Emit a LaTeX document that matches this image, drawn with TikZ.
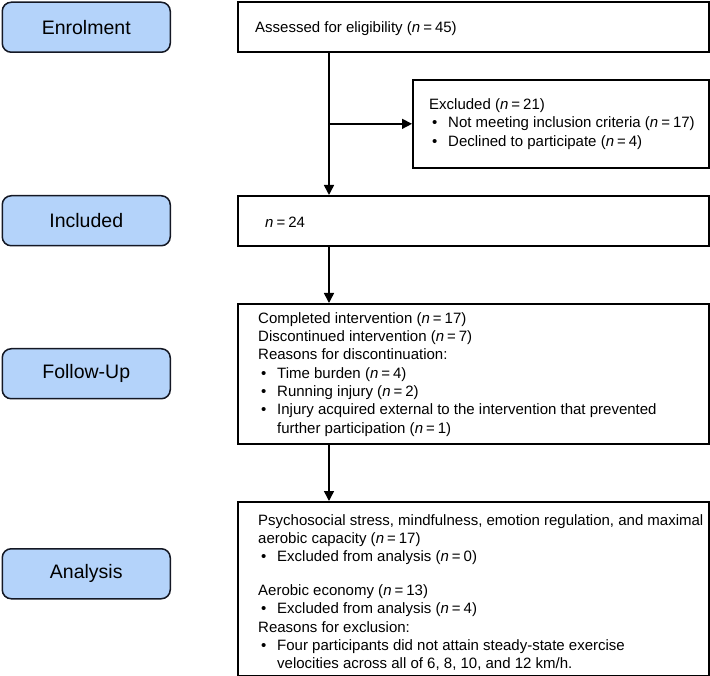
\documentclass[tikz,border=0pt]{standalone}
\usepackage{fontspec}
\setmainfont{Liberation Sans}
\usetikzlibrary{arrows.meta,calc}
\definecolor{stagefill}{RGB}{180,211,250}
\definecolor{stageline}{RGB}{20,24,36}
\newcommand\nval[1]{\textit{n}\hspace{0.2em}=\hspace{0.2em}#1}
\newcommand\bul{\makebox[19pt][l]{\hspace{3pt}\textbullet}}
\begin{document}
\begin{tikzpicture}[x=1pt,y=-1pt,
  stage/.style={draw=stageline, fill=stagefill, line width=1.5pt, rounded corners=9pt,
    minimum width=168pt, minimum height=50pt, anchor=north west, inner sep=0pt,
    font=\fontsize{19.5}{23}\selectfont},
  box/.style={draw=black, line width=1.7pt, anchor=north west, inner sep=0pt},
  txt/.style={anchor=west, align=left, inner sep=0pt, font=\fontsize{15}{18.3}\selectfont},
  arr/.style={line width=1.5pt, -{Triangle[length=10pt,width=10pt]}}]
\useasboundingbox (0,0) rectangle (710,676);
\coordinate (sp) at (329,0);

% stage labels
\node[stage] (enrol) at (1.5,1.5) {Enrolment};
\node[stage] (inclL) at (1.5,195) {Included};
\node[stage] (follL) at (1.5,348) {Follow-Up};
\node[stage] (anaL) at (1.5,548) {Analysis};

% boxes
\node[box, minimum width=471pt, minimum height=50pt] (assess) at (237,1.5) {};
\node[txt] (assesst) at ($(assess.west)+(18,1)$) {Assessed for eligibility (\nval{45})};

\node[box, minimum width=296pt, minimum height=88pt] (excl) at (412,79) {};
\node[txt] (exclt) at ($(excl.west)+(17,0)$) {Excluded (\nval{21})\\
\bul Not meeting inclusion criteria (\nval{17})\\
\bul Declined to participate (\nval{4})};

\node[box, minimum width=471pt, minimum height=50pt] (incl) at (237,195) {};
\node[txt] (inclt) at ($(incl.west)+(28,1)$) {\nval{24}};

\node[box, minimum width=471pt, minimum height=140pt] (foll) at (237,303) {};
\node[txt] (follt) at ($(foll.west)+(21,0.5)$) {Completed intervention (\nval{17})\\
Discontinued intervention (\nval{7})\\
Reasons for discontinuation:\\
\bul Time burden (\nval{4})\\
\bul Running injury (\nval{2})\\
\bul Injury acquired external to the intervention that prevented\\
\hspace*{19pt}further participation (\nval{1})};

\node[box, minimum width=471pt, minimum height=174pt] (ana) at (237,501) {};
\node[txt] (anat) at ($(ana.west)+(21,3.5)$) {Psychosocial stress, mindfulness, emotion regulation, and maximal\\
aerobic capacity (\nval{17})\\
\bul Excluded from analysis (\nval{0})\\[15.5pt]
Aerobic economy (\nval{13})\\
\bul Excluded from analysis (\nval{4})\\
Reasons for exclusion:\\
\bul Four participants did not attain steady-state exercise\\
\hspace*{19pt}velocities across all of 6, 8, 10, and 12 km/h.};

% connectors
\draw[arr] (assess.south -| sp) -- (incl.north -| sp);
\draw[arr] (sp |- excl.west) -- (excl.west);
\draw[arr] (incl.south -| sp) -- (foll.north -| sp);
\draw[arr] (foll.south -| sp) -- (ana.north -| sp);
\end{tikzpicture}
\end{document}
